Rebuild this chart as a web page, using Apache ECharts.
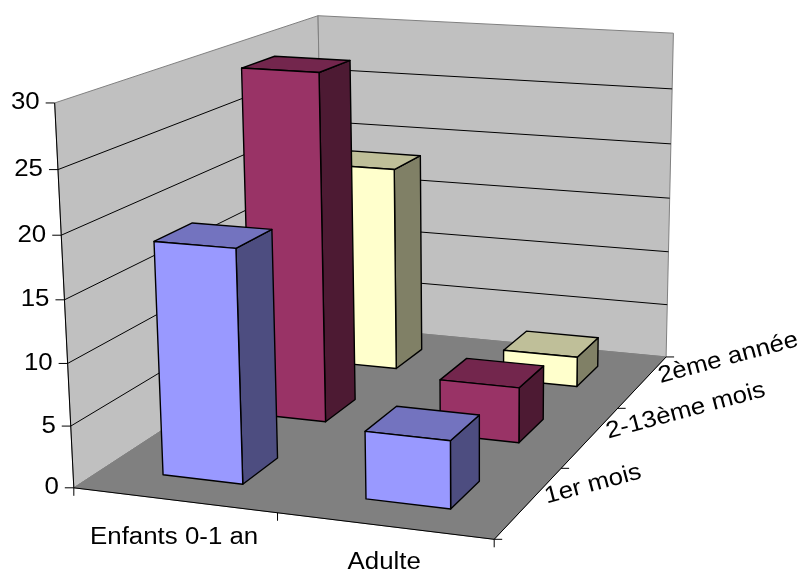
<!DOCTYPE html>
<html>
<head>
<meta charset="utf-8">
<script src="https://cdn.jsdelivr.net/npm/echarts@6.0.0/dist/echarts.min.js"></script>
<style>html,body{margin:0;padding:0;background:#fff}#main{width:803px;height:572px}</style>
</head>
<body>
<div id="main"></div>
<script>
// ---------------- data ----------------
const categories = ['Enfants 0-1 an', 'Adulte'];
const seriesNames = ['1er mois', '2-13ème mois', '2ème année'];
const firstMonth = [18.8, 5.4];
const months2to13 = [29.6, 4.7];
const secondYear = [18.4, 2.7];
const yTicks = [0, 5, 10, 15, 20, 25, 30];
const Y_MAX = 30;

// ---------------- styles ----------------
const frontColors = ['#9999FF', '#993366', '#FFFFCC'];
const topColors = ['#7373BF', '#73264D', '#BFBF99'];
const sideColors = ['#4D4D80', '#4D1A33', '#808066'];
const FONT = '"Liberation Sans", Arial, sans-serif';
const FONT_SIZE = 23.5;
const TEXT_SCALE_X = 1.1;
const GAP = 0.3;

// camera calibration (world X, value, depth Z) -> pixel, layout only
const CAL = [
  [0, 0, 0, 72, 487], [1, 0, 0, 276, 515], [2, 0, 0, 493, 538],
  [2, 0, 1, 563, 468], [2, 0, 2, 620, 408], [2, 0, 3, 663, 357],
  [0, 0, 3, 327, 325], [0, 30, 0, 57, 104], [0, 15, 0, 64.5, 299],
  [0, 30, 3, 315, 15], [2, 30, 3, 675, 33], [2, 15, 3, 669, 199]
];
function fitCamera(cal) {
  const A = [], b = [];
  cal.forEach(([X, Y, Z, u, v]) => {
    const y = Y / 10, uu = u / 100, vv = v / 100;
    A.push([X, y, Z, 1, 0, 0, 0, 0, -uu * X, -uu * y, -uu * Z]); b.push(uu);
    A.push([0, 0, 0, 0, X, y, Z, 1, -vv * X, -vv * y, -vv * Z]); b.push(vv);
  });
  const n = 11;
  const M = Array.from({length: n}, () => new Array(n + 1).fill(0));
  for (let r = 0; r < A.length; r++) {
    for (let i = 0; i < n; i++) {
      for (let j = 0; j < n; j++) M[i][j] += A[r][i] * A[r][j];
      M[i][n] += A[r][i] * b[r];
    }
  }
  for (let c = 0; c < n; c++) {
    let piv = c;
    for (let r = c + 1; r < n; r++) if (Math.abs(M[r][c]) > Math.abs(M[piv][c])) piv = r;
    const t = M[c]; M[c] = M[piv]; M[piv] = t;
    for (let r = 0; r < n; r++) {
      if (r === c) continue;
      const f = M[r][c] / M[c][c];
      for (let k = c; k <= n; k++) M[r][k] -= f * M[c][k];
    }
  }
  return M.map((row, i) => row[n] / row[i]);
}
const P = fitCamera(CAL);
function proj(X, Y, Z) {
  const y = Y / 10;
  const w = P[8] * X + P[9] * y + P[10] * Z + 1;
  return [100 * (P[0] * X + P[1] * y + P[2] * Z + P[3]) / w,
          100 * (P[4] * X + P[5] * y + P[6] * Z + P[7]) / w];
}

// ---------------- build bar data ----------------
const seriesValues = [firstMonth, months2to13, secondYear];
const barData = [];
for (let s = seriesValues.length - 1; s >= 0; s--) {
  for (let c = 0; c < categories.length; c++) barData.push([c, s, seriesValues[s][c]]);
}

function poly(points, fill, stroke, lw, z2) {
  return {type: 'polygon', z2: z2 || 0, shape: {points: points},
    style: {fill: fill, stroke: stroke, lineWidth: lw, lineJoin: 'round'}};
}
function line(p1, p2, stroke, lw, z2) {
  return {type: 'line', z2: z2 || 0, shape: {x1: p1[0], y1: p1[1], x2: p2[0], y2: p2[1]},
    style: {stroke: stroke, lineWidth: lw}};
}
function label(text, x, y, align, rotation) {
  return {type: 'text', z2: 5, x: x, y: y, rotation: rotation || 0, scaleX: TEXT_SCALE_X,
    style: {text: text, fill: '#000', font: FONT_SIZE + 'px ' + FONT, align: align, verticalAlign: 'middle'}};
}

function renderFrame() {
  const nX = categories.length, nZ = seriesNames.length;
  const ch = [];
  // walls & floor
  ch.push(poly([proj(0, 0, 0), proj(0, 0, nZ), proj(0, Y_MAX, nZ), proj(0, Y_MAX, 0)], '#C0C0C0', '#808080', 1, 1));
  ch.push(poly([proj(0, 0, nZ), proj(nX, 0, nZ), proj(nX, Y_MAX, nZ), proj(0, Y_MAX, nZ)], '#C0C0C0', '#808080', 1, 1));
  ch.push(poly([proj(0, 0, 0), proj(nX, 0, 0), proj(nX, 0, nZ), proj(0, 0, nZ)], '#808080', '#808080', 1, 2));
  // gridlines
  yTicks.forEach(t => {
    if (t === 0 || t === Y_MAX) return;
    ch.push(line(proj(0, t, 0), proj(0, t, nZ), '#000', 1, 3));
    ch.push(line(proj(0, t, nZ), proj(nX, t, nZ), '#000', 1, 3));
  });
  // axes
  ch.push(line(proj(0, 0, 0), proj(0, Y_MAX, 0), '#000', 1, 4));
  ch.push(line(proj(0, 0, 0), proj(nX, 0, 0), '#000', 1, 4));
  ch.push(line(proj(nX, 0, 0), proj(nX, 0, nZ), '#000', 1, 4));
  // value ticks and labels
  yTicks.forEach(t => {
    const p = proj(0, t, 0);
    ch.push(line([p[0] - 9, p[1]], p, '#000', 1, 4));
    ch.push(label(String(t), p[0] - 15, p[1], 'right'));
  });
  // category ticks and labels
  for (let c = 0; c <= nX; c++) {
    const p = proj(c, 0, 0);
    ch.push(line(p, [p[0], p[1] + 8], '#000', 1, 4));
  }
  categories.forEach((name, c) => {
    const p = proj(c + 0.5, 0, 0);
    ch.push(label(name, p[0], p[1] + 37, 'center'));
  });
  // depth ticks and labels
  for (let s = 0; s <= nZ; s++) {
    const p = proj(nX, 0, s);
    ch.push(line(p, [p[0] + 8, p[1]], '#000', 1, 4));
  }
  seriesNames.forEach((name, s) => {
    const p = proj(nX, 0, s + 0.5);
    ch.push(label(name, p[0] + 16, p[1] - 5, 'left', 15 * Math.PI / 180));
  });
  return {type: 'group', children: ch};
}

function renderBar(params, api) {
  const c = api.value(0), s = api.value(1), val = api.value(2);
  const x0 = c + GAP, x1 = c + 1 - GAP, z0 = s + GAP, z1 = s + 1 - GAP;
  const base = params.dataIndex * 3 + 10;
  return {type: 'group', children: [
    poly([proj(x1, 0, z0), proj(x1, 0, z1), proj(x1, val, z1), proj(x1, val, z0)], sideColors[s], '#000', 1.4, base),
    poly([proj(x0, val, z0), proj(x1, val, z0), proj(x1, val, z1), proj(x0, val, z1)], topColors[s], '#000', 1.4, base + 1),
    poly([proj(x0, 0, z0), proj(x1, 0, z0), proj(x1, val, z0), proj(x0, val, z0)], frontColors[s], '#000', 1.4, base + 2)
  ]};
}

const chart = echarts.init(document.getElementById('main'), null, {renderer: 'canvas'});
chart.setOption({
  animation: false,
  backgroundColor: '#fff',
  series: [
    {type: 'custom', coordinateSystem: 'none', z: 1, data: [[0]], renderItem: renderFrame, silent: true},
    {type: 'custom', coordinateSystem: 'none', z: 2, data: barData, renderItem: renderBar, silent: true}
  ]
});
</script>
</body>
</html>
